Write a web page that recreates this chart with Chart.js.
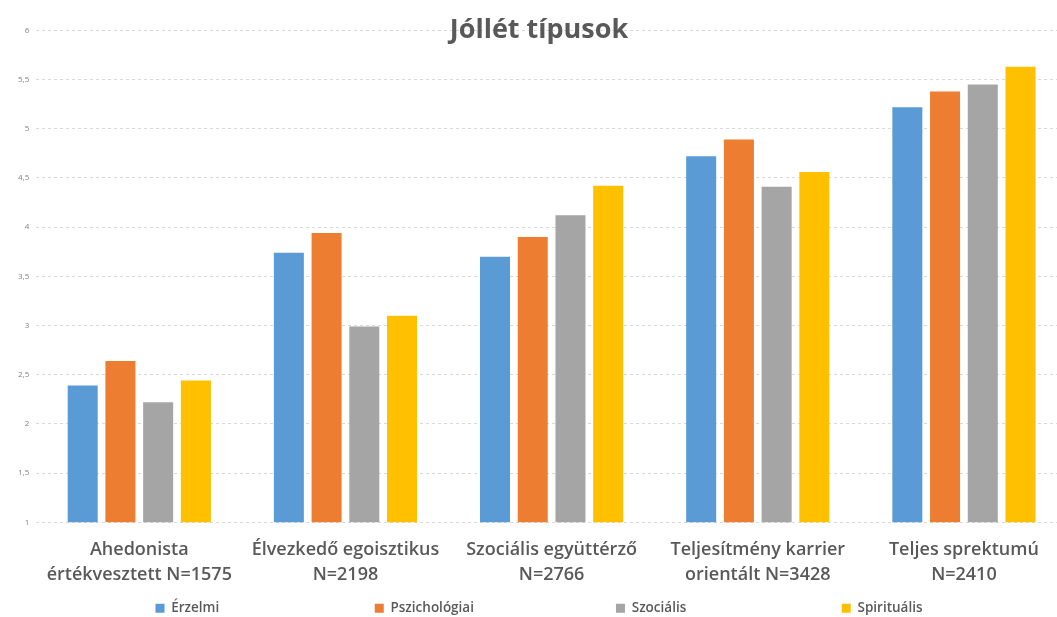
<!DOCTYPE html>
<html>
<head>
<meta charset="utf-8">
<script src="https://cdn.jsdelivr.net/npm/chart.js@4.4.1/dist/chart.umd.min.js"></script>
<style>
  html, body { margin: 0; padding: 0; background: #fff; overflow: hidden; }
  #wrap { width: 1070px; height: 617px; position: relative; }
</style>
</head>
<body>
<div id="wrap"><canvas id="chart"></canvas></div>
<script>
const categories = [
  ["Ahedonista", "értékvesztett N=1575"],
  ["Élvezkedő egoisztikus", "N=2198"],
  ["Szociális együttérző", "N=2766"],
  ["Teljesítmény karrier", "orientált N=3428"],
  ["Teljes sprektumú", "N=2410"],
];
const seriesNames = ["Érzelmi", "Pszichológiai", "Szociális", "Spirituális"];
const erzelmi = [2.39, 3.74, 3.70, 4.72, 5.22];
const pszichologiai = [2.64, 3.94, 3.90, 4.89, 5.38];
const szocialis = [2.22, 2.99, 4.12, 4.41, 5.45];
const spiritualis = [2.44, 3.10, 4.42, 4.56, 5.63];
const colors = ["#5B9BD5", "#ED7D31", "#A5A5A5", "#FFC000"];

const allSeries = [erzelmi, pszichologiai, szocialis, spiritualis];
const FONT = "'Open Sans', 'Noto Sans', sans-serif";
// em spaces added after each legend entry to spread them out like the original
const legendGaps = [11, 10, 11, 0];

new Chart(document.getElementById("chart"), {
  type: "bar",
  data: {
    labels: categories,
    datasets: allSeries.map((vals, i) => ({
      label: seriesNames[i],
      data: vals,
      backgroundColor: colors[i],
      categoryPercentage: 0.732,
      barPercentage: 0.796,
    })),
  },
  options: {
    responsive: true,
    maintainAspectRatio: false,
    animation: false,
    layout: { padding: { left: 11, right: 3, bottom: -8 } },
    scales: {
      x: {
        grid: { display: false },
        border: { display: false },
        ticks: {
          color: "#595959",
          padding: 8,
          maxRotation: 0,
          autoSkip: false,
          font: { family: FONT, size: 18, weight: 600, lineHeight: 1.34 },
        },
      },
      y: {
        min: 1,
        max: 6,
        grid: { color: "#d9d9d9", drawTicks: false, lineWidth: 1 },
        border: { display: false, dash: [3, 3] },
        ticks: {
          stepSize: 0.5,
          color: "#7f7f7f",
          padding: 7,
          font: { family: FONT, size: 8 },
          callback: (v) => String(v).replace(".", ","),
        },
      },
    },
    plugins: {
      title: {
        display: true,
        text: "Jóllét típusok",
        color: "#595959",
        font: { family: FONT, size: 27, weight: "bold" },
        padding: { top: 14, bottom: -16 },
      },
      legend: {
        position: "bottom",
        labels: {
          color: "#595959",
          boxWidth: 9,
          boxHeight: 9,
          padding: 7,
          font: { family: FONT, size: 13.5, weight: 600 },
          generateLabels: (chart) => {
            const items = Chart.defaults.plugins.legend.labels.generateLabels(chart);
            items.forEach((it, i) => {
              it.lineWidth = 0;
              it.text = it.text + "\u2003".repeat(legendGaps[i]);
            });
            return items;
          },
        },
      },
      tooltip: { enabled: false },
    },
  },
});
</script>
</body>
</html>
